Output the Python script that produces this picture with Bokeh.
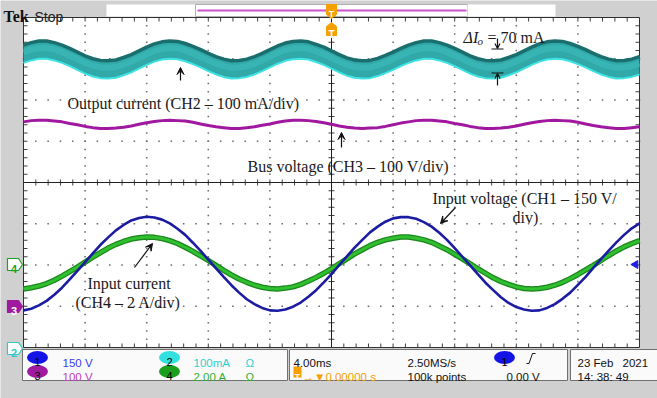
import numpy as np
from bokeh.plotting import figure
from bokeh.models import Range1d, Arrow, VeeHead, OpenHead, Label
from bokeh.embed import file_html
from bokeh.resources import INLINE

# ---------------- data ----------------
# time axis (ms), trigger at 0, 4 ms/div, 10 divisions
time_ms = [-20.0, -19.5, -19.0, -18.5, -18.0, -17.5, -17.0, -16.5, -16.0, -15.5,
           -15.0, -14.5, -14.0, -13.5, -13.0, -12.5, -12.0, -11.5, -11.0, -10.5,
           -10.0, -9.5, -9.0, -8.5, -8.0, -7.5, -7.0, -6.5, -6.0, -5.5,
           -5.0, -4.5, -4.0, -3.5, -3.0, -2.5, -2.0, -1.5, -1.0, -0.5,
           0.0, 0.5, 1.0, 1.5, 2.0, 2.5, 3.0, 3.5, 4.0, 4.5,
           5.0, 5.5, 6.0, 6.5, 7.0, 7.5, 8.0, 8.5, 9.0, 9.5,
           10.0, 10.5, 11.0, 11.5, 12.0, 12.5, 13.0, 13.5, 14.0, 14.5,
           15.0, 15.5, 16.0, 16.5, 17.0, 17.5, 18.0, 18.5, 19.0, 19.5, 20.0]

# screen positions in divisions (8 vertical divisions, centre = 0)
ch1_input_voltage = [-3.10, -3.06, -2.98, -2.87, -2.72, -2.55, -2.35, -2.14, -1.93, -1.72,
                     -1.51, -1.33, -1.16, -1.03, -0.92, -0.86, -0.83, -0.85, -0.90, -0.99,
                     -1.12, -1.27, -1.46, -1.66, -1.87, -2.08, -2.29, -2.49, -2.67, -2.83,
                     -2.95, -3.04, -3.10, -3.11, -3.08, -3.01, -2.91, -2.77, -2.61, -2.42,
                     -2.22, -2.00, -1.79, -1.58, -1.39, -1.21, -1.07, -0.95, -0.87, -0.84,
                     -0.84, -0.88, -0.96, -1.07, -1.22, -1.39, -1.59, -1.80, -2.01, -2.22,
                     -2.43, -2.61, -2.78, -2.92, -3.02, -3.08, -3.11, -3.10, -3.04, -2.95,
                     -2.82, -2.67, -2.48, -2.29, -2.07, -1.86, -1.65, -1.45, -1.27, -1.11, -0.99]

ch4_input_current = [-2.58, -2.55, -2.51, -2.45, -2.37, -2.27, -2.16, -2.05, -1.93, -1.81,
                     -1.70, -1.59, -1.50, -1.43, -1.37, -1.34, -1.32, -1.33, -1.36, -1.41,
                     -1.48, -1.57, -1.67, -1.78, -1.89, -2.01, -2.13, -2.24, -2.34, -2.42,
                     -2.49, -2.54, -2.57, -2.58, -2.56, -2.53, -2.47, -2.39, -2.30, -2.20,
                     -2.09, -1.97, -1.85, -1.73, -1.63, -1.53, -1.45, -1.39, -1.35, -1.32,
                     -1.32, -1.35, -1.39, -1.45, -1.54, -1.63, -1.74, -1.85, -1.97, -2.09,
                     -2.20, -2.31, -2.40, -2.47, -2.53, -2.57, -2.58, -2.57, -2.54, -2.49,
                     -2.42, -2.33, -2.23, -2.12, -2.01, -1.89, -1.77, -1.66, -1.56, -1.48, -1.41]

ch2_output_current = [3.12, 3.18, 3.22, 3.22, 3.18, 3.12, 3.04, 2.95, 2.86, 2.79,
                      2.75, 2.74, 2.76, 2.82, 2.89, 2.98, 3.07, 3.15, 3.20, 3.22,
                      3.21, 3.16, 3.09, 3.01, 2.92, 2.84, 2.78, 2.74, 2.75, 2.78,
                      2.84, 2.92, 3.01, 3.10, 3.17, 3.21, 3.22, 3.20, 3.14, 3.07,
                      2.98, 2.89, 2.81, 2.76, 2.74, 2.75, 2.80, 2.87, 2.95, 3.04,
                      3.12, 3.18, 3.22, 3.22, 3.18, 3.12, 3.04, 2.95, 2.86, 2.79,
                      2.75, 2.74, 2.76, 2.82, 2.89, 2.98, 3.07, 3.15, 3.20, 3.22,
                      3.21, 3.16, 3.09, 3.01, 2.92, 2.84, 2.78, 2.74, 2.75, 2.78, 2.84]
ch2_ripple_pp = 0.46   # switching-ripple envelope thickness (div)

ch3_bus_voltage = [1.47, 1.50, 1.51, 1.51, 1.49, 1.47, 1.43, 1.40, 1.36, 1.33,
                   1.31, 1.31, 1.32, 1.34, 1.37, 1.41, 1.45, 1.48, 1.50, 1.51,
                   1.50, 1.49, 1.46, 1.42, 1.38, 1.35, 1.33, 1.31, 1.31, 1.33,
                   1.35, 1.39, 1.42, 1.46, 1.49, 1.51, 1.51, 1.50, 1.48, 1.45,
                   1.41, 1.37, 1.34, 1.32, 1.31, 1.32, 1.33, 1.36, 1.40, 1.44,
                   1.47, 1.50, 1.51, 1.51, 1.49, 1.47, 1.43, 1.40, 1.36, 1.33,
                   1.31, 1.31, 1.32, 1.34, 1.37, 1.41, 1.45, 1.48, 1.50, 1.51,
                   1.50, 1.49, 1.46, 1.42, 1.38, 1.35, 1.33, 1.31, 1.31, 1.33, 1.35]

channel_scales = ["150 V", "100 V", "100mA", "2.00 A"]

# ---------------- layout helpers (reference-pixel -> data) ----------------
W, H = 657, 398
OFF = 0
XC, YC = 331.0, 182.0
PX_PER_MS = 616.0 / 40.0
PX_PER_DIV = 330.0 / 8.0


def X(px):
    return (px - XC) / PX_PER_MS


def Y(py):
    return (YC - py) / PX_PER_DIV


p = figure(width=W, height=H,
           x_range=Range1d(X(OFF), X(OFF + W)),
           y_range=Range1d(Y(OFF + H), Y(OFF)),
           output_backend="svg", toolbar_location=None,
           x_axis_location=None, y_axis_location=None, min_border=0)
p.min_border_left = p.min_border_right = p.min_border_top = p.min_border_bottom = 0
p.outline_line_color = None
for g in p.grid:
    g.visible = False
GRAY = "#d0d0d0"
p.background_fill_color = GRAY
p.border_fill_color = GRAY


def rect_px(x0, y0, x1, y1, fill, line=None, lw=1):
    p.quad(left=[X(x0)], right=[X(x1)], top=[Y(y0)], bottom=[Y(y1)],
           fill_color=fill, line_color=line, line_width=lw)


def lab(text, px, py, size="16px", font="Liberation Serif", color="#1a1a1a",
        align="left", baseline="alphabetic", style="normal"):
    p.add_layout(Label(x=X(px), y=Y(py), text=text, text_font=font,
                       text_font_size=size, text_color=color, text_align=align,
                       text_baseline=baseline, text_font_style=style))


# ---------------- graticule ----------------
rect_px(23, 17, 639, 347, "white")

minor_x = np.arange(-20, 20.001, 0.8)
minor_y = np.arange(-4, 4.001, 0.2)
dx, dy = [], []
for vx in [-16, -12, -8, -4, 4, 8, 12, 16]:
    dx += [vx] * len(minor_y)
    dy += list(minor_y)
for hy in [-3, -2, -1, 1, 2, 3]:
    dx += list(minor_x)
    dy += [hy] * len(minor_x)
p.scatter(dx, dy, marker="square", size=1.6, color="#707070", line_color=None)

tx = 4 / PX_PER_MS
ty = 4 / PX_PER_DIV
cx = 3 / PX_PER_MS
cy = 3 / PX_PER_DIV
inner_x = minor_x[1:-1]
inner_y = minor_y[1:-1]
tick_col = "#404040"
# edge ticks
p.segment(x0=inner_x, y0=[4] * len(inner_x), x1=inner_x, y1=[4 - ty] * len(inner_x), line_color=tick_col)
p.segment(x0=inner_x, y0=[-4] * len(inner_x), x1=inner_x, y1=[-4 + ty] * len(inner_x), line_color=tick_col)
p.segment(x0=[-20] * len(inner_y), y0=inner_y, x1=[-20 + tx] * len(inner_y), y1=inner_y, line_color=tick_col)
p.segment(x0=[20] * len(inner_y), y0=inner_y, x1=[20 - tx] * len(inner_y), y1=inner_y, line_color=tick_col)
# centre cross ticks
p.segment(x0=inner_x, y0=[-cy] * len(inner_x), x1=inner_x, y1=[cy] * len(inner_x), line_color=tick_col)
p.segment(x0=[-cx] * len(inner_y), y0=inner_y, x1=[cx] * len(inner_y), y1=inner_y, line_color=tick_col)
p.line([-20, 20], [0, 0], line_color="#202020", line_width=1)
p.line([0, 0], [-4, 4], line_color="#202020", line_width=1)
p.quad(left=[-20], right=[20], top=[4], bottom=[-4], fill_color=None, line_color="#303030", line_width=1)

# ---------------- waveforms ----------------
ch2 = np.array(ch2_output_current)
half = ch2_ripple_pp / 2
p.varea(x=time_ms, y1=ch2 + half, y2=ch2 - half, fill_color="#31a9a9")
p.line(time_ms, ch2 + 0.04, line_color="#3dbdbd", line_width=6, line_alpha=0.6)
p.line(time_ms, ch2 + half - 0.02, line_color="#1b6e6e", line_width=3.5)
p.line(time_ms, ch2 - half + 0.01, line_color="#3fe3e3", line_width=2)

p.line(time_ms, ch3_bus_voltage, line_color="#a0189f", line_width=3)

p.line(time_ms, ch4_input_current, line_color="#1b861b", line_width=5.5)
p.line(time_ms, ch4_input_current, line_color="#2fbf2f", line_width=3)

p.line(time_ms, ch1_input_voltage, line_color="#1c1ca3", line_width=2.6)

# ---------------- annotations ----------------
lab("Output current (CH2 \u2013 100 mA/div)", 67, 103)
lab("Bus voltage (CH3 \u2013 100 V/div)", 247, 166)
lab("Input voltage (CH1 \u2013 150 V/", 432, 198)
lab("div)", 512, 217)
lab("Input current", 87, 283)
lab("(CH4 \u2013 2 A/div)", 75, 302)
lab("\u0394I", 463, 37, style="italic")
lab("o", 477, 40, size="11px", style="italic")
lab("= 70 mA", 487, 37)


def arrow(x0, y0, x1, y1, size=7, lw=1.2, open_head=False):
    head = OpenHead(size=size, line_color="#111111", line_width=lw) if open_head else \
        VeeHead(size=size, fill_color="#111111", line_color="#111111")
    p.add_layout(Arrow(end=head, x_start=X(x0), y_start=Y(y0), x_end=X(x1), y_end=Y(y1),
                       line_color="#111111", line_width=lw))


arrow(180, 80, 180, 67)
arrow(341, 147, 341, 132)
arrow(455, 207, 440, 223)
arrow(134, 267, 152, 243)
arrow(497, 38, 497, 48, size=5, open_head=True)
arrow(497, 85, 497, 73, size=5, open_head=True)
p.line([X(491), X(503)], [Y(48.5), Y(48.5)], line_color="#111111", line_width=1.2)
p.line([X(491), X(503)], [Y(72.5), Y(72.5)], line_color="#111111", line_width=1.2)

# ---------------- header ----------------
lab("Tek", 3, 16, size="16px", font="Liberation Serif", color="#111111", style="bold")
lab("Stop", 34, 16, size="14px", font="Liberation Sans", color="#222222")
rect_px(106, 4, 195, 16, "white")
rect_px(195, 4, 467, 16, "white", line="#b0b0b0")
p.line([X(197), X(466)], [Y(10), Y(10)], line_color="#cc55cc", line_width=2)
rect_px(467, 4, 555, 16, "white")

ORANGE = "#f5a000"
p.patch([X(326), X(336), X(336), X(331), X(326)], [Y(4), Y(4), Y(14), Y(18), Y(14)],
        fill_color=ORANGE, line_color=ORANGE)
lab("T", 331, 13, size="9px", font="Liberation Sans", color="white", align="center", style="bold")
p.patch([X(326), X(331), X(336), X(336), X(326)], [Y(26), Y(22), Y(26), Y(35), Y(35)],
        fill_color=ORANGE, line_color=ORANGE)
lab("T", 331, 34, size="10px", font="Liberation Sans", color="white", align="center", style="bold")

# ---------------- channel ground markers ----------------
def marker(yc, fill, edge, txt_col, txt):
    xs = [X(7), X(18), X(22), X(18), X(7)]
    ys = [Y(yc - 6), Y(yc - 6), Y(yc), Y(yc + 6), Y(yc + 6)]
    p.patch(xs, ys, fill_color=fill, line_color=edge, line_width=1.2)
    lab(txt, 13.5, yc + 4.5, size="11px", font="Liberation Sans", color=txt_col,
        align="center", style="bold")


marker(264, "white", "#20a020", "#20a020", "4")
marker(306, "#a01aa0", "#a01aa0", "white", "3")
marker(348, "white", "#30c8c8", "#30c8c8", "2")
p.scatter([X(635)], [Y(264)], marker="triangle", angle=np.pi / 2, size=8,
          fill_color="#2020e0", line_color="#2020e0")

# ---------------- bottom read-out panel ----------------
rect_px(22, 349, 287, 380, "#fafafa", line="#707070")
rect_px(289, 349, 567, 380, "#fafafa", line="#707070")
rect_px(570, 349, 662, 380, "#fafafa", line="#707070")

ell_w = 21 / PX_PER_MS
ell_h = 13 / PX_PER_DIV
p.ellipse(x=[X(37), X(37), X(169), X(169), X(504)],
          y=[Y(357), Y(371), Y(357), Y(371), Y(357)],
          width=ell_w, height=ell_h,
          fill_color=["#1414e6", "#a01aa0", "#33e0e0", "#1e9e1e", "#1414e6"],
          line_color=None)
for txt, px, py in [("1", 37, 361.5), ("3", 37, 375.5), ("2", 169, 361.5), ("4", 169, 375.5), ("1", 504, 361.5)]:
    lab(txt, px, py, size="11px", font="Liberation Sans", color="#000000", align="center")

SANS = "Liberation Sans"
FS = "11.5px"
lab(channel_scales[0], 62, 362, size=FS, font=SANS, color="#3b3bf0")
lab(channel_scales[1], 62, 376, size=FS, font=SANS, color="#c040c0")
lab(channel_scales[2], 193, 362, size=FS, font=SANS, color="#2ed0d0")
lab(channel_scales[3], 193, 376, size=FS, font=SANS, color="#30b030")
lab("\u03a9", 245, 362, size=FS, font=SANS, color="#2ed0d0")
lab("\u03a9", 245, 376, size=FS, font=SANS, color="#30b030")

lab("4.00ms", 293, 362, size=FS, font=SANS, color="#111111")
rect_px(293, 366, 301, 377, ORANGE)
lab("T", 297, 376, size="9px", font=SANS, color="white", align="center", style="bold")
lab("\u2192\u25bc0.00000 s", 302, 376, size=FS, font=SANS, color=ORANGE)
lab("2.50MS/s", 407, 362, size=FS, font=SANS, color="#111111")
lab("100k points", 407, 376, size=FS, font=SANS, color="#111111")
p.line([X(526), X(528.5), X(532), X(535)], [Y(363), Y(363), Y(353), Y(353)],
       line_color="#111111", line_width=1)
lab("0.00 V", 506, 376, size=FS, font=SANS, color="#111111")
lab("23 Feb", 577, 362, size=FS, font=SANS, color="#111111")
lab("2021", 622, 362, size=FS, font=SANS, color="#111111")
lab("14: 38: 49", 577, 376, size=FS, font=SANS, color="#111111")

open("out.html", "w").write(file_html(p, INLINE))
